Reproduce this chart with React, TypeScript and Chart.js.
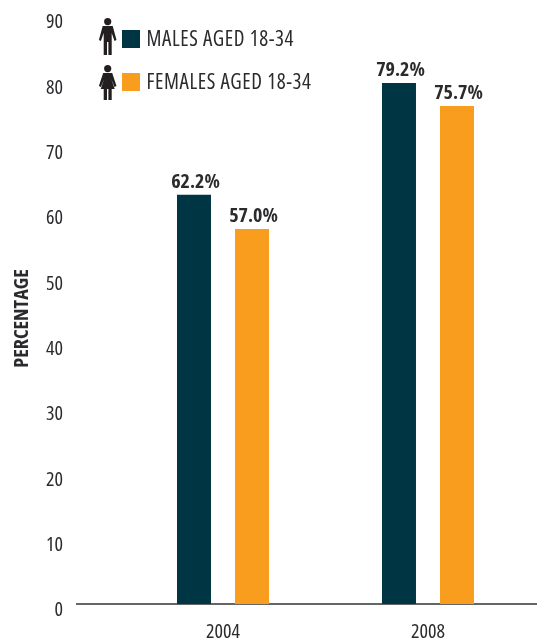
import React, { useEffect, useRef } from "react";
import { Chart, registerables } from "chart.js";

Chart.register(...registerables);

const years = [2004, 2008];
const malesPct = [62.2, 79.2];
const femalesPct = [57.0, 75.7];
const tickValues = [0, 10, 20, 30, 40, 50, 60, 70, 80, 90];
const yearTicks = [2004, 2008];
const maleLabel = "MALES AGED 18-34";
const femaleLabel = "FEMALES AGED 18-34";
const axisTitle = "PERCENTAGE";

const NAVY = "#003644";
const ORANGE = "#F99D1E";
const INK = "#2b2b2e";
const FAMILY = '"Open Sans", sans-serif';
const NARROW = "extra-condensed";

function drawMale(ctx: CanvasRenderingContext2D, cx: number, top: number) {
  ctx.beginPath();
  ctx.arc(cx, top + 3.6, 3.6, 0, Math.PI * 2);
  ctx.fill();
  ctx.beginPath();
  ctx.moveTo(cx - 5, top + 8);
  ctx.lineTo(cx + 5, top + 8);
  ctx.lineTo(cx + 8.8, top + 22);
  ctx.lineTo(cx + 6.8, top + 23);
  ctx.lineTo(cx + 4, top + 15);
  ctx.lineTo(cx + 4, top + 37);
  ctx.lineTo(cx + 0.7, top + 37);
  ctx.lineTo(cx + 0.7, top + 24);
  ctx.lineTo(cx - 0.7, top + 24);
  ctx.lineTo(cx - 0.7, top + 37);
  ctx.lineTo(cx - 4, top + 37);
  ctx.lineTo(cx - 4, top + 15);
  ctx.lineTo(cx - 6.8, top + 23);
  ctx.lineTo(cx - 8.8, top + 22);
  ctx.closePath();
  ctx.fill();
}

function drawFemale(ctx: CanvasRenderingContext2D, cx: number, top: number) {
  ctx.beginPath();
  ctx.arc(cx, top + 3.6, 3.6, 0, Math.PI * 2);
  ctx.fill();
  ctx.beginPath();
  ctx.moveTo(cx - 4.5, top + 8);
  ctx.lineTo(cx + 4.5, top + 8);
  ctx.lineTo(cx + 8.8, top + 21);
  ctx.lineTo(cx + 6.8, top + 22);
  ctx.lineTo(cx + 3.5, top + 14);
  ctx.lineTo(cx + 7, top + 24);
  ctx.lineTo(cx + 4, top + 24);
  ctx.lineTo(cx + 4, top + 35);
  ctx.lineTo(cx + 0.7, top + 35);
  ctx.lineTo(cx + 0.7, top + 24);
  ctx.lineTo(cx - 0.7, top + 24);
  ctx.lineTo(cx - 0.7, top + 35);
  ctx.lineTo(cx - 4, top + 35);
  ctx.lineTo(cx - 4, top + 24);
  ctx.lineTo(cx - 7, top + 24);
  ctx.lineTo(cx - 3.5, top + 14);
  ctx.lineTo(cx - 6.8, top + 22);
  ctx.lineTo(cx - 8.8, top + 21);
  ctx.closePath();
  ctx.fill();
}

// Percentages above each bar, the rotated axis title, and the icon key.
const annotations = {
  id: "annotations",
  afterDatasetsDraw(chart: any) {
    const { ctx } = chart;
    ctx.save();

    ctx.fillStyle = INK;
    ctx.font = `bold ${NARROW} 20px ${FAMILY}`;
    ctx.textAlign = "center";
    ctx.textBaseline = "alphabetic";
    chart.data.datasets.forEach((ds: any, i: number) => {
      chart.getDatasetMeta(i).data.forEach((bar: any, j: number) => {
        ctx.fillText(`${ds.data[j].y.toFixed(1)}%`, bar.x + 1.5, bar.y - 7);
      });
    });

    ctx.save();
    ctx.translate(28, 318.5);
    ctx.rotate(-Math.PI / 2);
    ctx.font = `bold ${NARROW} 20px ${FAMILY}`;
    ctx.fillText(axisTitle, 0, 0);
    ctx.restore();

    ctx.fillStyle = "#231f20";
    drawMale(ctx, 107.7, 18);
    drawFemale(ctx, 107.7, 65);

    ctx.fillStyle = NAVY;
    ctx.fillRect(122, 30, 18, 18);
    ctx.fillStyle = ORANGE;
    ctx.fillRect(122, 73, 18, 18);

    ctx.fillStyle = INK;
    ctx.font = `${NARROW} 21px ${FAMILY}`;
    ctx.textAlign = "left";
    ctx.textBaseline = "alphabetic";
    (ctx as any).letterSpacing = "0.6px";
    ctx.fillText(chart.data.datasets[0].label, 146.5, 46);
    ctx.fillText(chart.data.datasets[1].label, 146.5, 89);
    ctx.restore();
  },
};

export default function App() {
  const ref = useRef<HTMLCanvasElement>(null);

  useEffect(() => {
    const chart = new Chart(ref.current!, {
      type: "bar",
      data: {
        datasets: [
          {
            label: maleLabel,
            data: years.map((x, i) => ({ x, y: malesPct[i] })),
            backgroundColor: NAVY,
          },
          {
            label: femaleLabel,
            data: years.map((x, i) => ({ x, y: femalesPct[i] })),
            backgroundColor: ORANGE,
          },
        ],
      },
      options: {
        responsive: false,
        animation: false,
        layout: { padding: { top: 12, left: 0, right: 0, bottom: 0 } },
        datasets: { bar: { categoryPercentage: 0.566, barPercentage: 0.586 } },
        plugins: { legend: { display: false }, tooltip: { enabled: false } },
        scales: {
          x: {
            type: "linear",
            offset: false,
            min: 2001.151,
            max: 2010.127,
            grid: { display: false, drawTicks: false, offset: false },
            border: { color: "#666666", width: 2 },
            afterBuildTicks: (scale: any) => {
              scale.ticks = yearTicks.map((value) => ({ value }));
            },
            afterFit: (scale: any) => {
              scale.height = 38;
              scale.paddingLeft = 0;
              scale.paddingRight = 0;
            },
            ticks: {
              autoSkip: false,
              maxRotation: 0,
              padding: 16,
              color: INK,
              font: { family: FAMILY, size: 20, weight: NARROW },
              callback: (v: any) => String(v),
            },
          },
          // Bars are measured on this hidden axis.
          y: { display: false, min: 0, max: 90 },
          // The printed tick numbers run on a slightly tighter, lower ladder
          // than the bars, so they get an axis of their own.
          tickLabels: {
            type: "linear",
            position: "left",
            min: 0.995,
            max: 91.61,
            grid: { display: false, drawTicks: false },
            border: { display: false },
            afterBuildTicks: (scale: any) => {
              scale.ticks = tickValues.map((value) => ({ value }));
            },
            afterFit: (scale: any) => {
              scale.width = 77;
              scale.paddingTop = 0;
              scale.paddingBottom = 0;
            },
            ticks: {
              autoSkip: false,
              padding: 14,
              color: INK,
              font: { family: FAMILY, size: 20, weight: NARROW },
              callback: (v: any) => String(v),
            },
          },
        },
      },
      plugins: [annotations],
    } as any);
    return () => chart.destroy();
  }, []);

  return (
    <div style={{ position: "absolute", left: 0, top: 0, width: 537, height: 642, background: "#fff" }}>
      <canvas ref={ref} width={537} height={642} style={{ display: "block" }} />
    </div>
  );
}
